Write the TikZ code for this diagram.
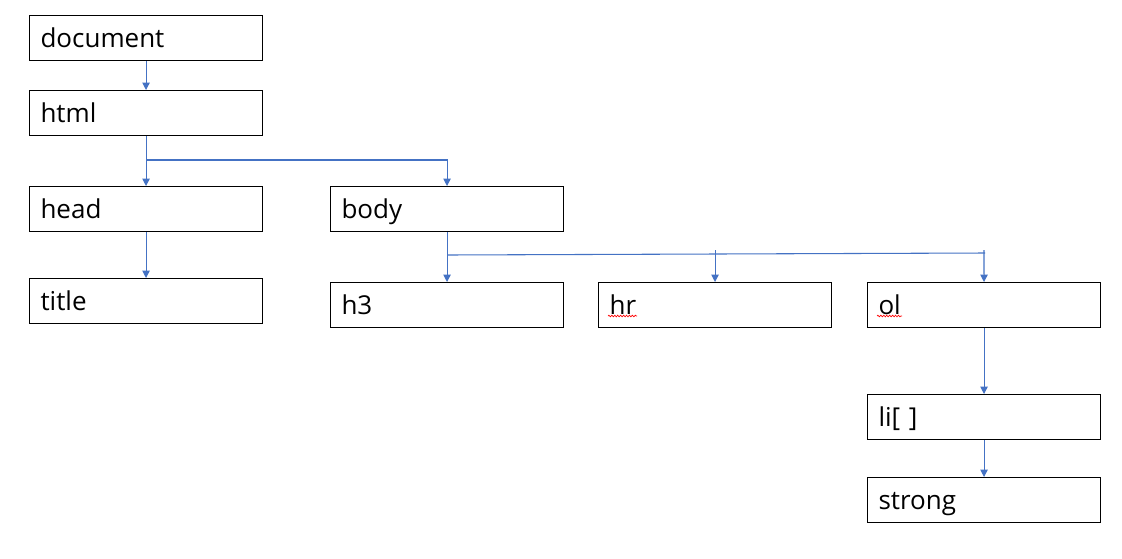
\documentclass[tikz,border=0pt]{standalone}
\usepackage{fontspec}
\setmainfont{Open Sans}
\usetikzlibrary{arrows.meta,decorations.pathmorphing}
\definecolor{lineblue}{HTML}{4472C4}
\tikzset{
  box/.style={draw=black,line width=0.8pt,anchor=north west,inner xsep=8.25pt,inner ysep=0pt,
    text width=158.25pt,align=left,text height=24pt,text depth=9.75pt,font=\fontsize{19.5pt}{22pt}\selectfont},
  conn/.style={draw=lineblue,line width=0.8pt,-{Triangle[length=5.5pt,width=5.5pt]}},
  plain/.style={draw=lineblue,line width=0.8pt},
  squig/.style={draw=red,line width=0.5pt,decorate,decoration={snake,segment length=2.2pt,amplitude=0.6pt}}
}
\begin{document}
\begin{tikzpicture}[x=0.75pt,y=-0.75pt]
\useasboundingbox[fill=white] (0,0) rectangle (1122,558);
\node[box] (document) at (29,15) {document};
\node[box] (html) at (29,90) {html};
\node[box] (head) at (29,186) {head};
\node[box] (title) at (29,278) {title};
\node[box] (body) at (330,186) {body};
\node[box] (h3) at (330,282) {h3};
\node[box] (hr) at (598,282) {hr};
\node[box] (ol) at (867,282) {ol};
\node[box] (li) at (867,394) {li[ ]};
\node[box] (strong) at (867,477) {strong};
% connectors
\draw[conn] (document.south) -- (html.north);
\draw[conn] (html.south) -- (head.north);
\coordinate (hb) at (html.south |- 0,160);
\draw[conn] (hb) -| (body.north);
\draw[conn] (head.south) -- (title.north);
\draw[conn] (body.south) -- (h3.north);
\coordinate (bl) at (body.south |- 0,255);
\coordinate (br) at (985,253);
\draw[plain] (bl) -- (br);
\coordinate (hrtop) at (hr.north |- 0,250);
\draw[conn] (hrtop) -- (hr.north);
\coordinate (oltop) at (984,250);
\draw[conn] (oltop) -- (ol.north);
\draw[conn] (ol.south) -- (li.north);
\draw[conn] (li.south) -- (strong.north);
% spell-check marks
\coordinate (sq1a) at (608,316);
\coordinate (sq1b) at (637,316);
\coordinate (sq2a) at (877,316);
\coordinate (sq2b) at (902,316);
\draw[squig] (sq1a) -- (sq1b);
\draw[squig] (sq2a) -- (sq2b);
\end{tikzpicture}
\end{document}
